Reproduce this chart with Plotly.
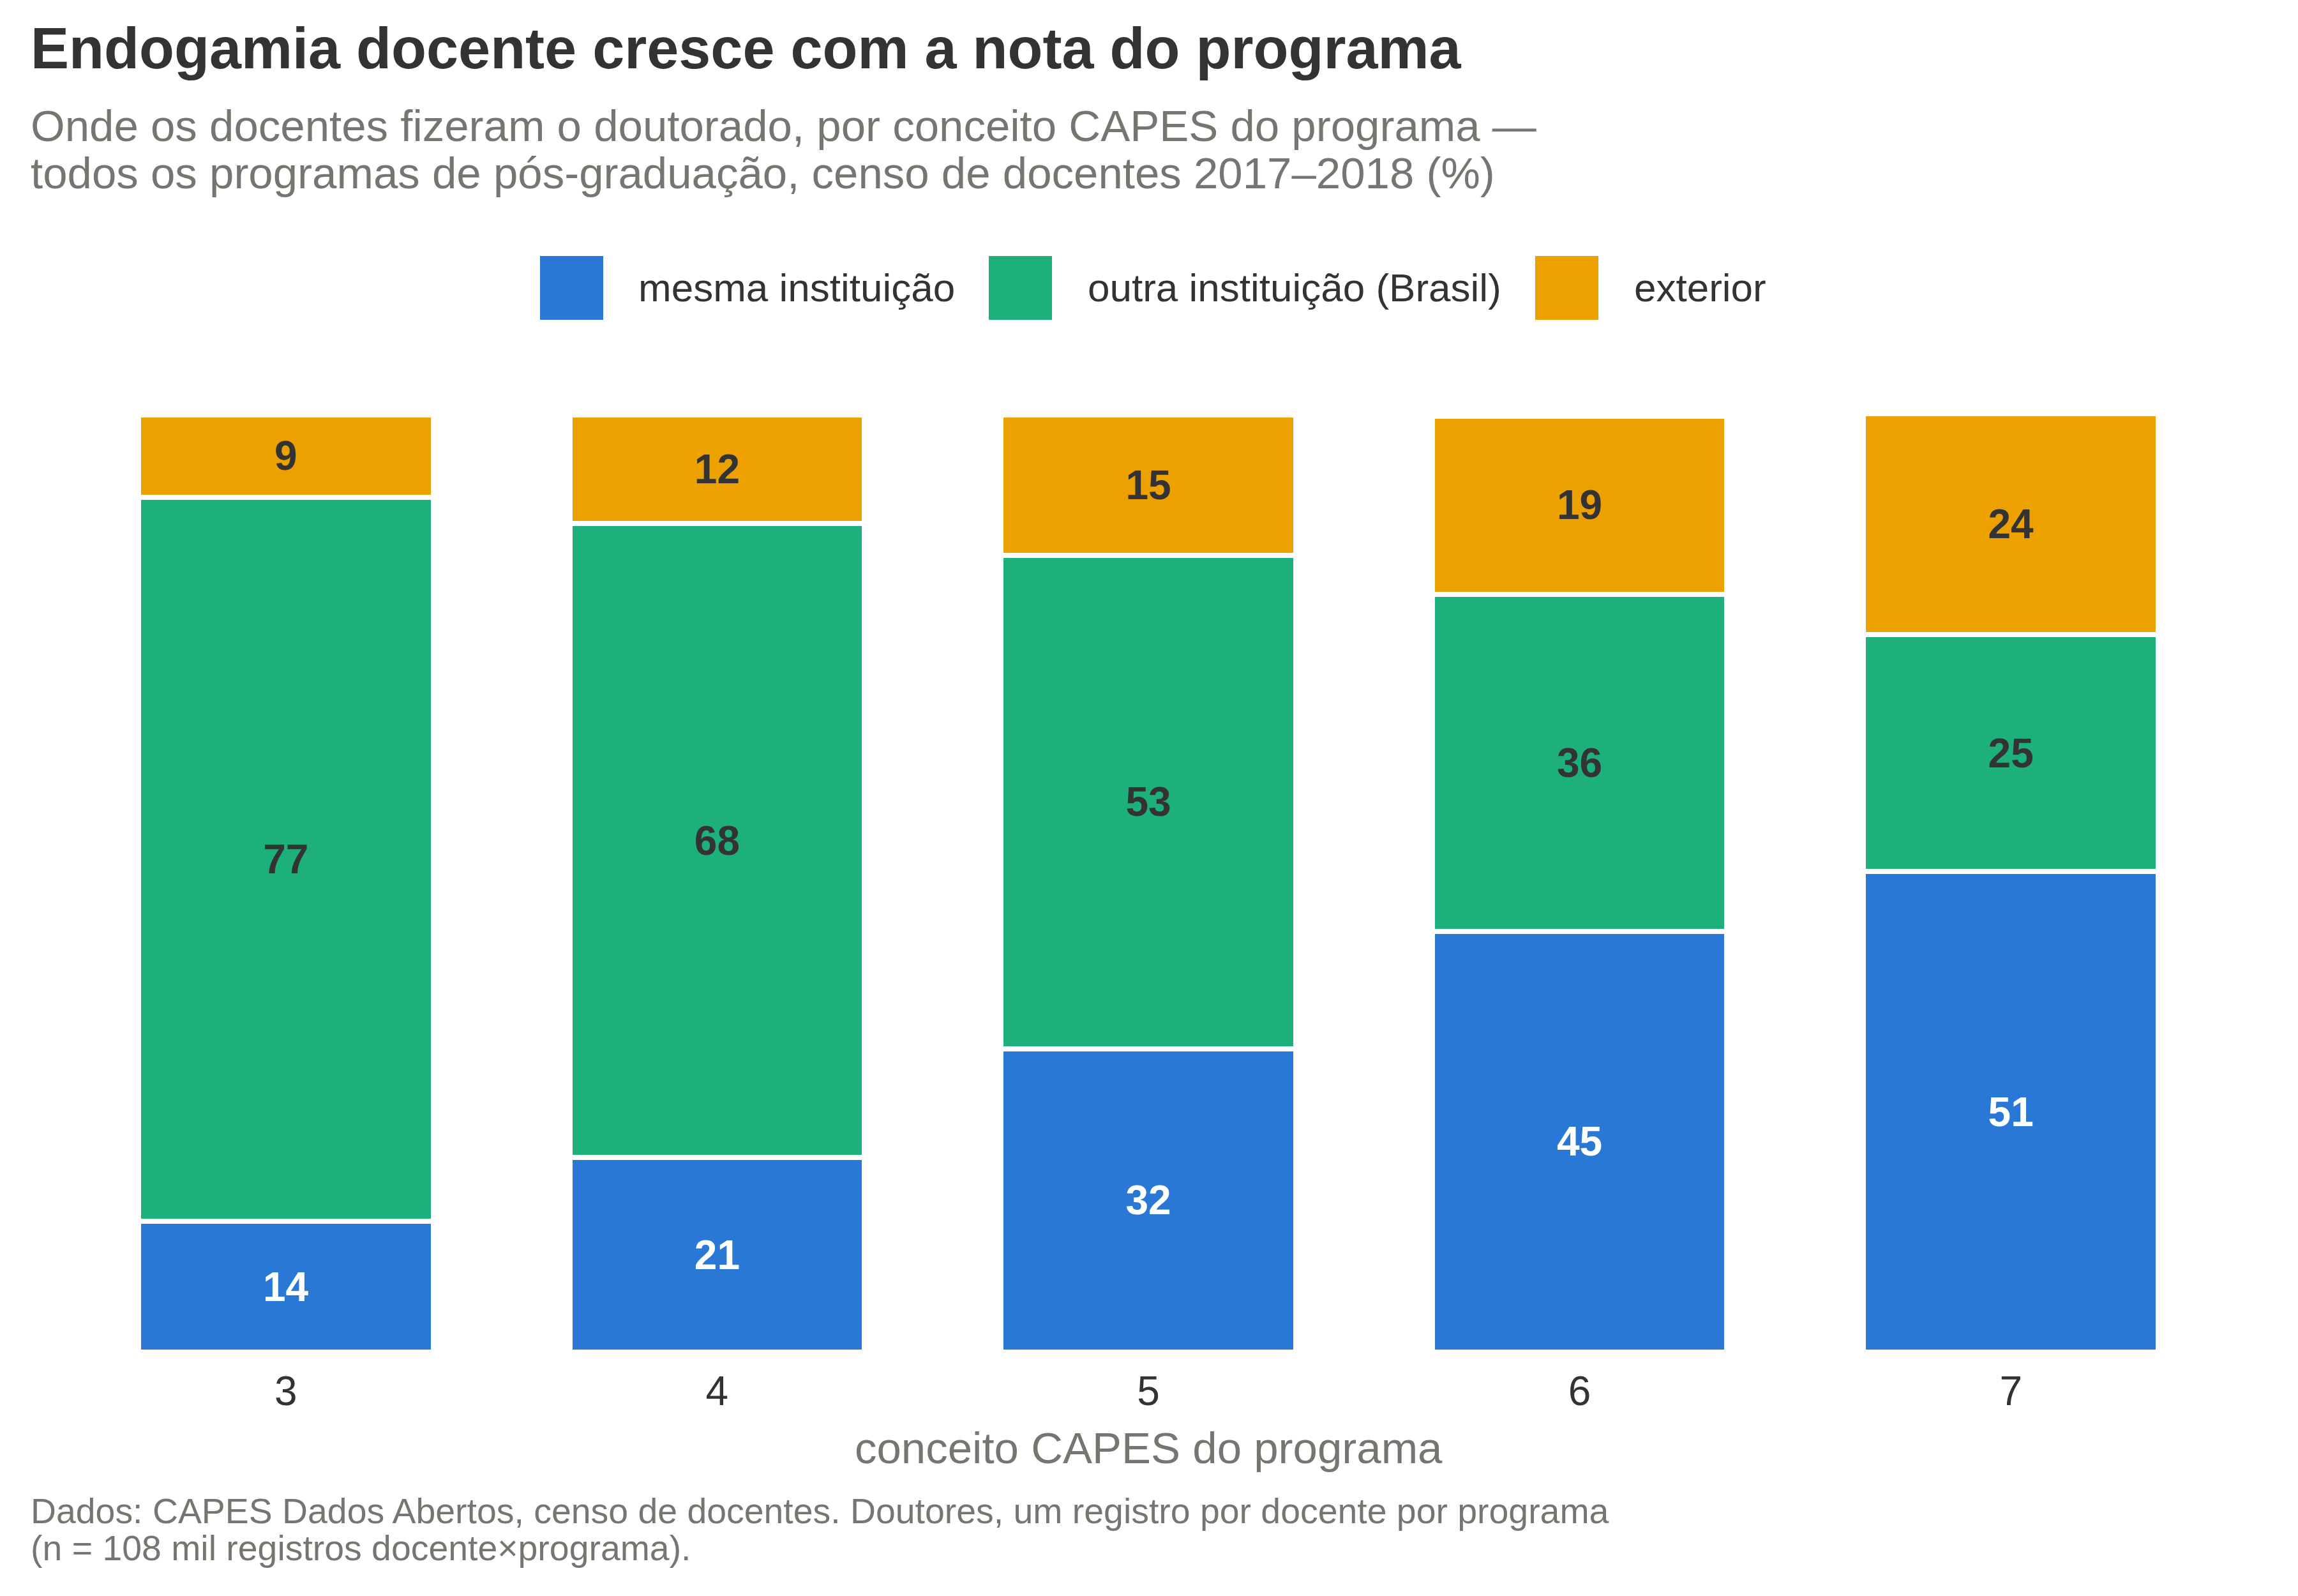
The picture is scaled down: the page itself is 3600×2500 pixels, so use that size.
import plotly.graph_objects as go

# ---- data ----
conceitos = ["3", "4", "5", "6", "7"]
mesma = [13.96, 20.74, 32.36, 44.89, 51.25]
outra = [77.25, 67.68, 52.66, 35.97, 25.32]
exterior = [8.79, 11.58, 14.99, 19.00, 23.57]
series_names = ["mesma instituição", "outra instituição (Brasil)", "exterior"]
series_colors = ["#2a78d6", "#1db07a", "#eda100"]
label_colors = ["#ffffff", "#333333", "#333333"]

title = "Endogamia docente cresce com a nota do programa"
subtitle1 = "Onde os docentes fizeram o doutorado, por conceito CAPES do programa —"
subtitle2 = "todos os programas de pós-graduação, censo de docentes 2017–2018 (%)"
xlabel = "conceito CAPES do programa"
caption1 = "Dados: CAPES Dados Abertos, censo de docentes. Doutores, um registro por docente por programa"
caption2 = "(n = 108 mil registros docente×programa)."

FONT = "Liberation Sans, Arial, Helvetica, sans-serif"
W, H = 3600, 2500
L, R, T, B = 110, 112, 635, 382
PLOT_TOP, PLOT_BOT = T, H - B
PW = W - L - R
PH = PLOT_BOT - PLOT_TOP


def px_x(px):
    return (px - L) / PW


def px_y(py):
    return (PLOT_BOT - py) / PH


fig = go.Figure()
for name, vals, col, lc in zip(series_names, [mesma, outra, exterior], series_colors, label_colors):
    fig.add_trace(go.Bar(
        x=conceitos, y=vals, name=name,
        marker=dict(color=col, line=dict(color="white", width=8)),
        texttemplate="%{y:.0f}", textposition="inside", insidetextanchor="middle",
        textangle=0, constraintext="none",
        textfont=dict(family=FONT, size=64, color=lc, weight="bold"),
        showlegend=False,
    ))

annotations = [
    dict(text=f"<b>{title}</b>", x=px_x(46), y=px_y(76), font=dict(size=90, color="#333333")),
    dict(text=subtitle1, x=px_x(46), y=px_y(197), font=dict(size=69, color="#77756f")),
    dict(text=subtitle2, x=px_x(46), y=px_y(271), font=dict(size=69, color="#77756f")),
    dict(text=caption1, x=px_x(46), y=px_y(2367), font=dict(size=55.4, color="#77756f")),
    dict(text=caption2, x=px_x(46), y=px_y(2425), font=dict(size=55.4, color="#77756f")),
]
for a in annotations:
    a.update(xref="paper", yref="paper", xanchor="left", yanchor="middle", showarrow=False)
    a["font"]["family"] = FONT

annotations.append(dict(text=xlabel, xref="paper", yref="paper", x=0.5, y=px_y(2268),
                        xanchor="center", yanchor="middle", showarrow=False,
                        font=dict(family=FONT, size=69, color="#77756f")))

# manual legend
sw_x = [846, 1549, 2405]
tx_x = [998, 1702, 2558]
shapes = []
for sx, tx, name, col in zip(sw_x, tx_x, series_names, series_colors):
    shapes.append(dict(type="rect", xref="paper", yref="paper",
                       x0=px_x(sx), x1=px_x(sx + 99), y0=px_y(501), y1=px_y(401),
                       fillcolor=col, line=dict(width=0)))
    annotations.append(dict(text=name, xref="paper", yref="paper", x=px_x(tx), y=px_y(451),
                            xanchor="left", yanchor="middle", showarrow=False,
                            font=dict(family=FONT, size=62, color="#333333")))

fig.update_layout(
    width=W, height=H, barmode="stack", bargap=0.317,
    margin=dict(l=L, r=R, t=T, b=B),
    paper_bgcolor="white", plot_bgcolor="white",
    font=dict(family=FONT, color="#333333"),
    annotations=annotations, shapes=shapes,
    xaxis=dict(type="category", showgrid=False, zeroline=False, showline=False, ticks="",
               ticklabelstandoff=18,
               tickfont=dict(family=FONT, size=64, color="#333333")),
    yaxis=dict(range=[0, 101], visible=False, showgrid=False, zeroline=False),
    uniformtext=dict(mode=False),
)

fig.write_html("out.html")
